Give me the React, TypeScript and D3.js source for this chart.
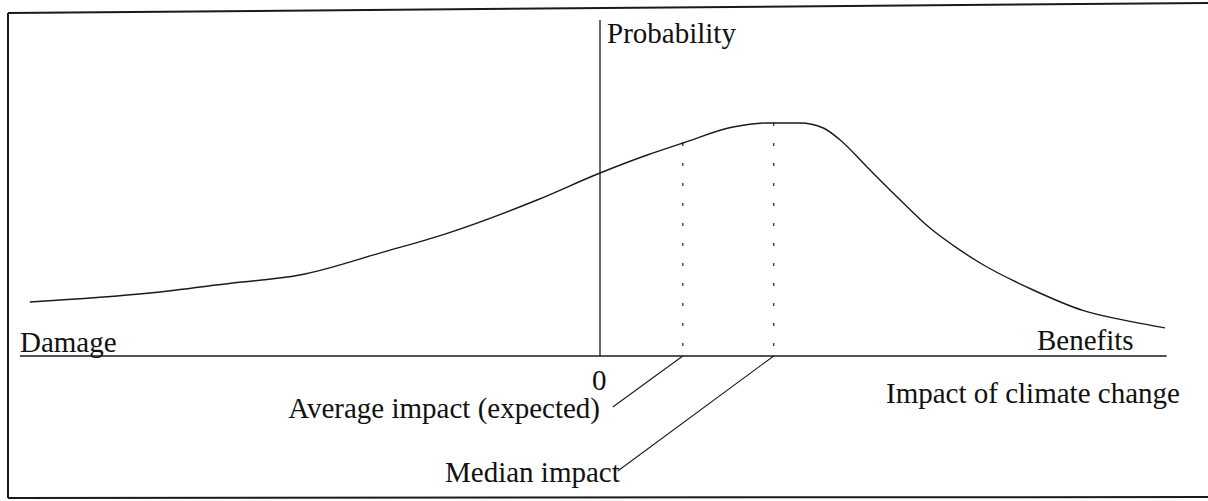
import React from "react";
import * as d3 from "d3";

// Impact of climate change (arbitrary units, 0 = no impact) vs probability density
const impactValues = [-9.78, -7.72, -6.3, -5.15, -3.72, -2.66, -1.08, 0, 0.81, 1.42, 2.28, 2.86, 3.43, 3.83, 4.12, 4.58, 5.15, 5.66, 6.17, 6.52, 7.43, 8.28, 9.14, 9.69];
const probabilityValues = [0.225, 0.2625, 0.304, 0.3375, 0.433, 0.508, 0.65, 0.7625, 0.8375, 0.8875, 0.954, 0.971, 0.971, 0.95, 0.9, 0.7875, 0.65, 0.533, 0.442, 0.3875, 0.275, 0.19, 0.142, 0.117];
const averageImpact = 1.42;
const medianImpact = 2.98;
const xAxisExtent = [-9.95, 9.72];
const yAxisTop = 1.4;

const labels = {
  yTitle: "Probability",
  left: "Damage",
  right: "Benefits",
  xTitle: "Impact of climate change",
  zero: "0",
  average: "Average impact (expected)",
  median: "Median impact",
};

const W = 1208;
const H = 501;
const FONT = "'Liberation Serif', 'Times New Roman', serif";
const INK = "#1a1a1a";

export default function App() {
  const x = d3.scaleLinear().domain([-10, 10]).range([17, 1183]);
  const y = d3.scaleLinear().domain([0, 1]).range([356, 116]);

  const pts: [number, number][] = impactValues.map((v, i) => [v, probabilityValues[i]]);
  const line = d3
    .line<[number, number]>()
    .x((d) => x(d[0]))
    .y((d) => y(d[1]))
    .curve(d3.curveMonotoneX);

  const probAt = (v: number) => {
    const i = d3.bisector((d: number) => d).left(impactValues, v);
    const x0 = impactValues[i - 1], x1 = impactValues[i];
    const p0 = probabilityValues[i - 1], p1 = probabilityValues[i];
    return p0 + ((v - x0) / (x1 - x0)) * (p1 - p0);
  };

  const y0 = y(0);
  const avgX = x(averageImpact);
  const medX = x(medianImpact);

  return (
    <svg width={W} height={H} style={{ position: "absolute", left: 0, top: 0, background: "#fff" }} fontFamily={FONT}>
      {/* frame */}
      <line x1={8} y1={13} x2={W} y2={3} stroke={INK} strokeWidth={2} />
      <line x1={8} y1={13} x2={8} y2={498} stroke={INK} strokeWidth={2} />
      <line x1={8} y1={498} x2={W} y2={497} stroke={INK} strokeWidth={2} />

      {/* axes */}
      <line x1={x(xAxisExtent[0])} y1={y0} x2={x(xAxisExtent[1])} y2={y0} stroke={INK} strokeWidth={1.3} />
      <line x1={x(0)} y1={y(yAxisTop)} x2={x(0)} y2={y0} stroke={INK} strokeWidth={1.3} />

      {/* dotted markers */}
      <line x1={avgX} y1={y(probAt(averageImpact))} x2={avgX} y2={y0} stroke="#333" strokeWidth={1.3} strokeDasharray="3,17" />
      <line x1={medX} y1={y(probAt(medianImpact))} x2={medX} y2={y0} stroke="#333" strokeWidth={1.3} strokeDasharray="3,17" />

      {/* curve */}
      <path d={line(pts) || ""} fill="none" stroke={INK} strokeWidth={1.4} />

      {/* leader lines */}
      <line x1={avgX} y1={y0} x2={avgX - 70} y2={y0 + 51} stroke={INK} strokeWidth={1.1} />
      <line x1={medX} y1={y0} x2={medX - 156} y2={y0 + 115} stroke={INK} strokeWidth={1.1} />

      {/* labels */}
      <g fontSize={29} fill="#111">
        <text x={x(0) + 7} y={43}>{labels.yTitle}</text>
        <text x={20} y={y0 - 4}>{labels.left}</text>
        <text x={1037} y={y0 - 6}>{labels.right}</text>
        <text x={886} y={403}>{labels.xTitle}</text>
        <text x={x(0) - 8} y={390}>{labels.zero}</text>
        <text x={x(0)} y={418} textAnchor="end">{labels.average}</text>
        <text x={445} y={482}>{labels.median}</text>
      </g>
    </svg>
  );
}
